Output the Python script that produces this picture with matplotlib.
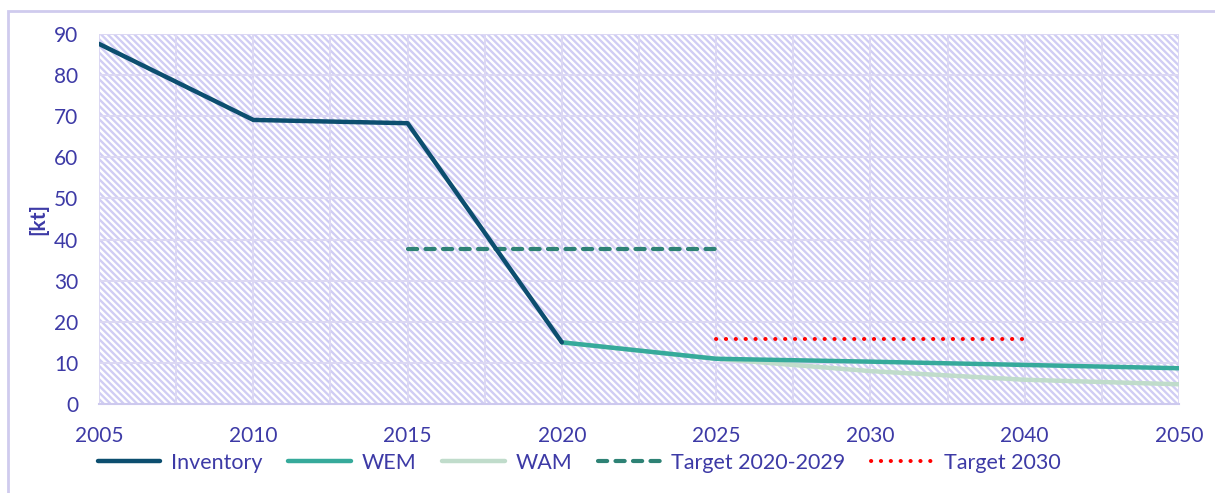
import matplotlib
matplotlib.use("Agg")
import matplotlib.pyplot as plt
from matplotlib.patches import Rectangle
import numpy as np

years = ["2005", "2010", "2015", "2020", "2025", "2030", "2040", "2050"]
inventory = [87.6, 69.1, 68.3, 15.0, None, None, None, None]
wem = [None, None, None, 15.0, 11.0, 10.3, 9.5, 8.7]
wam = [None, None, None, 15.0, 11.0, 8.0, 5.9, 4.8]
target_2020_2029 = [None, None, 37.6, 37.6, 37.6, None, None, None]
target_2030 = [None, None, None, None, 15.8, 15.8, 15.8, None]

txt = "#3d3aa6"
plt.rcParams['font.family'] = ['Lato', 'DejaVu Sans']
plt.rcParams['hatch.linewidth'] = 1.7

fig = plt.figure(figsize=(12.15, 4.93), dpi=100)
ax = fig.add_axes([99/1215, 1-404/493, (1179-99)/1215, (404-34)/493])

# outer chart frame
fig.patches.append(Rectangle((8/1215, -0.1), 1.2, 1.1 - 11/493, transform=fig.transFigure,
                             fill=False, edgecolor="#cfcbee", linewidth=2, zorder=0))

# hatched background
ax.add_patch(Rectangle((0, 0), 1, 1, transform=ax.transAxes, facecolor="white",
                       edgecolor="#d0cdf4", hatch="\\" * 5, linewidth=0, zorder=0))

x = np.arange(len(years))

def arr(v):
    return np.array([np.nan if a is None else a for a in v], dtype=float)

ax.plot(x, arr(wam), color="#c0dccb", lw=3.2, solid_capstyle="round", label="WAM", zorder=3)
ax.plot(x, arr(wem), color="#36aa9b", lw=3.2, solid_capstyle="round", label="WEM", zorder=4)
ax.plot(x, arr(inventory), color="#0c4e6f", lw=3.2, solid_capstyle="round", label="Inventory", zorder=5)
ax.plot(x, arr(target_2020_2029), color="#2e8275", lw=3.0, dashes=(2.2, 2.0),
        dash_capstyle="round", label="Target 2020-2029", zorder=4)
ax.plot(x, arr(target_2030), color="#ff0000", lw=2.9, dashes=(0.05, 2.4),
        dash_capstyle="round", label="Target 2030", zorder=4)

ax.set_xlim(0, 7)
ax.set_ylim(0, 90)
ax.set_yticks(np.arange(0, 91, 10))
ax.set_xticks(x)
ax.set_xticklabels(years)
ax.set_xticks(np.arange(0.5, 7, 1), minor=True)
ax.grid(True, which="both", color="#dcd8f3", lw=1.4, zorder=1)
ax.set_axisbelow(True)
ax.tick_params(which="both", length=0, labelsize=15, colors=txt)
ax.tick_params(axis="x", pad=16)
ax.tick_params(axis="y", pad=15)
for s in ["top", "right", "left"]:
    ax.spines[s].set_visible(False)
ax.spines["bottom"].set_color("#cdc9ee")
ax.spines["bottom"].set_linewidth(1.5)
ax.set_ylabel("[kt]", color=txt, fontsize=15, fontweight="bold", labelpad=4)

h, l = ax.get_legend_handles_labels()
order = ["Inventory", "WEM", "WAM", "Target 2020-2029", "Target 2030"]
hd = dict(zip(l, h))
leg = fig.legend([hd[o] for o in order], order, loc="center", bbox_to_anchor=(0.477, 1-463/493),
                 ncol=5, frameon=False, fontsize=15.5, handlelength=2.9, columnspacing=1.2,
                 handletextpad=0.5)
for t in leg.get_texts():
    t.set_color(txt)

fig.savefig("out.png", dpi=100)
